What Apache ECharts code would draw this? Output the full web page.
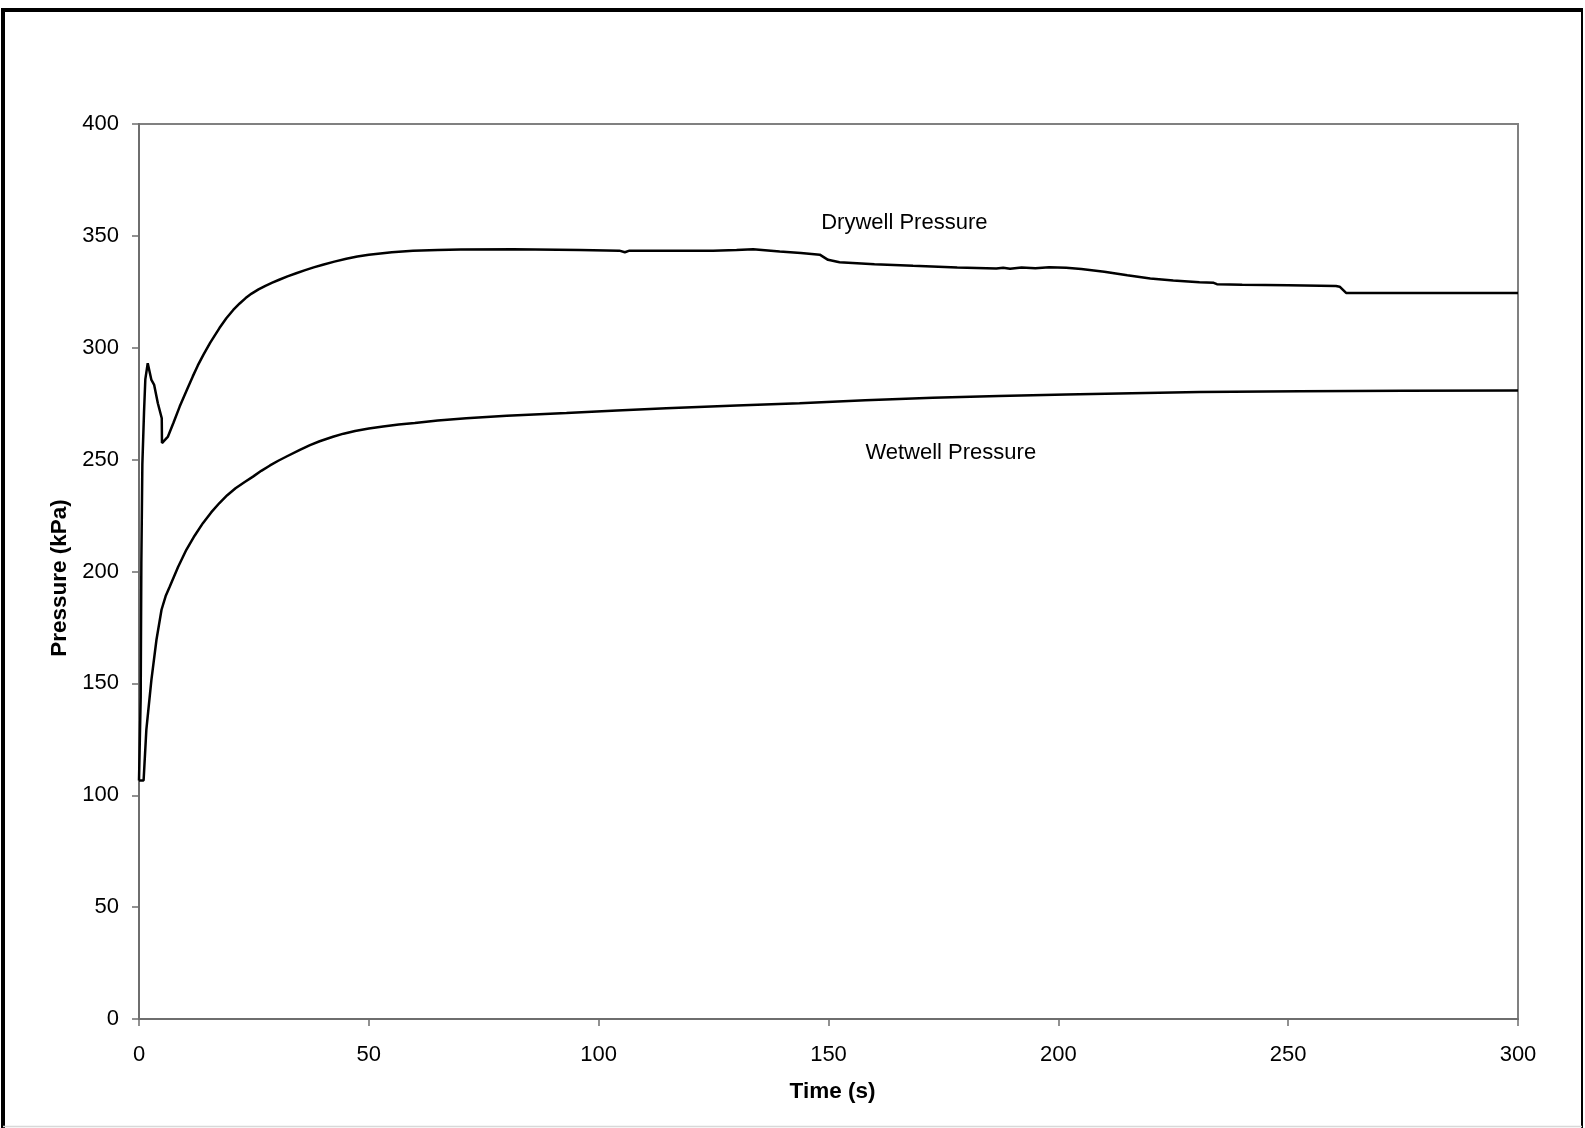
<!DOCTYPE html>
<html>
<head>
<meta charset="utf-8">
<title>Drywell and Wetwell Pressure</title>
<script src="https://cdn.jsdelivr.net/npm/echarts@6/dist/echarts.min.js"></script>
<style>
  html, body { margin: 0; padding: 0; background: #fff; }
  #chart { width: 1585px; height: 1128px; }
</style>
</head>
<body>
<div id="chart"></div>
<script>
// Drywell pressure, [time (s), pressure (kPa)]
const drywell = [
  [0, 106.6], [0.37, 144], [0.51, 204], [0.73, 248], [1.09, 271], [1.38, 286], [1.9, 293.1],
  [2.7, 285.6], [3.3, 283.4], [4.1, 275.2], [4.95, 268.5], [5.0, 257.4], [5.4, 257.4],
  [6.3, 260.3], [7.5, 266.5], [8.85, 273.7], [10.5, 281.6], [11.7, 287.2], [12.8, 292.1],
  [14, 296.8], [15.5, 302.3], [17.5, 308.8], [19, 313.2], [20.5, 316.9], [21.9, 319.8],
  [23.2, 322.2], [24.5, 324.2], [26, 326.1], [27.5, 327.7], [29, 329.1], [30.5, 330.4],
  [32.3, 331.9], [34.2, 333.3], [36, 334.6], [38, 335.9], [40, 337.1], [42.5, 338.5],
  [45.1, 339.8], [47.5, 340.8], [50, 341.6], [55, 342.7], [59.6, 343.3], [65, 343.7],
  [70, 343.9], [81.4, 344], [95.9, 343.7], [104.5, 343.4], [105.7, 342.7],
  [106.7, 343.4], [115, 343.3], [124.9, 343.4], [130, 343.7], [133.6, 344], [139.4, 343],
  [144, 342.3], [148.1, 341.6], [149.9, 339.3], [152.4, 338.2], [160, 337.3], [168.4, 336.6],
  [178, 335.9], [186.5, 335.4], [188, 335.8], [189.5, 335.3], [192, 335.9], [195, 335.5],
  [198, 336], [201.7, 335.8], [205, 335.2], [210, 334], [215, 332.4], [220, 331],
  [225, 330.1], [230.7, 329.3], [233.8, 329], [234.5, 328.4], [240, 328.2], [250, 327.9],
  [260.4, 327.6], [261.2, 327.3], [262.6, 324.5], [270, 324.5], [300, 324.5]
];

// Wetwell pressure, [time (s), pressure (kPa)]
const wetwell = [
  [0, 106.6], [1.0, 106.6], [1.6, 129.3], [2.7, 151.6], [3.8, 169.5], [4.9, 182.9],
  [5.8, 189], [6.7, 193.3], [8.5, 202], [10.3, 209.7], [12.1, 216], [13.9, 221.6],
  [15.7, 226.4], [17.5, 230.6], [19.2, 234.1], [21, 237.2], [23, 240], [24.8, 242.4],
  [26.6, 245], [28.5, 247.4], [30.3, 249.5], [32.1, 251.4], [35, 254.4], [37.2, 256.5],
  [39.3, 258.2], [42.2, 260.2], [44.5, 261.6], [47, 262.8], [50, 263.9], [53.1, 264.8],
  [56.5, 265.7], [60, 266.4], [65, 267.5], [71.2, 268.5], [80, 269.6], [93, 270.8],
  [104, 272], [114.7, 273], [130, 274.2], [143.7, 275.2], [158, 276.5], [172.7, 277.6],
  [187, 278.4], [201.7, 279.1], [216, 279.7], [230.7, 280.2], [252.5, 280.6],
  [275, 280.8], [300, 280.9]
];

// Curve captions, anchored at [time, pressure]
const captionNames = ['Drywell Pressure', 'Wetwell Pressure'];
const captionAnchors = [[166.5, 355.6], [176.6, 253.1]];

// Axis ranges and tick steps
const timeRange = [0, 300], timeStep = 50;
const pressureRange = [0, 400], pressureStep = 50;

const FONT = "'Liberation Sans', Arial, sans-serif";
const AXIS_GRAY = '#6e6e6e';

const chart = echarts.init(document.getElementById('chart'), null, { renderer: 'canvas' });

const axisCommon = {
  type: 'value',
  axisLine: { show: true, lineStyle: { color: AXIS_GRAY, width: 2 } },
  axisTick: { show: true, inside: false, length: 7, lineStyle: { color: AXIS_GRAY, width: 1.5 } },
  splitLine: { show: false },
  nameLocation: 'middle'
};

const titleStyle = { fontFamily: FONT, fontSize: 22.5, fontWeight: 'bold', color: '#000' };

chart.setOption({
  backgroundColor: '#fff',
  animation: false,
  grid: {
    left: 139, right: 67, top: 124, bottom: 109,
    show: true, borderColor: '#808080', borderWidth: 2, backgroundColor: 'transparent'
  },
  xAxis: Object.assign({}, axisCommon, {
    min: timeRange[0], max: timeRange[1], interval: timeStep,
    name: 'Time (s)', nameGap: 61,
    nameTextStyle: Object.assign({}, titleStyle, { padding: [0, 0, 0, 8] }),
    axisLabel: { fontFamily: FONT, fontSize: 22, color: '#000', margin: 25 }
  }),
  yAxis: Object.assign({}, axisCommon, {
    min: pressureRange[0], max: pressureRange[1], interval: pressureStep,
    name: 'Pressure (kPa)', nameGap: 60,
    nameTextStyle: Object.assign({}, titleStyle, { padding: [0, 13, 0, 0] }),
    axisLabel: { fontFamily: FONT, fontSize: 22, color: '#000', margin: 20 }
  }),
  graphic: [
    // outer frame of the figure
    { type: 'line', shape: { x1: 1, y1: 10, x2: 1583, y2: 10 }, style: { stroke: '#000', lineWidth: 4 } },
    { type: 'line', shape: { x1: 3, y1: 8, x2: 3, y2: 1128 }, style: { stroke: '#000', lineWidth: 4 } },
    { type: 'line', shape: { x1: 1582, y1: 8, x2: 1582, y2: 1128 }, style: { stroke: '#000', lineWidth: 2 } },
    { type: 'line', shape: { x1: 3, y1: 1126.5, x2: 1582, y2: 1126.5 }, style: { stroke: '#d8d8d8', lineWidth: 1.5 } }
  ],
  series: [
    {
      name: 'Drywell Pressure', type: 'line', data: drywell,
      showSymbol: false, symbol: 'none', smooth: false,
      lineStyle: { color: '#000', width: 2.5 }, silent: true, z: 3
    },
    {
      name: 'Wetwell Pressure', type: 'line', data: wetwell,
      showSymbol: false, symbol: 'none', smooth: false,
      lineStyle: { color: '#000', width: 2.5 }, silent: true, z: 3
    },
    {
      name: 'captions', type: 'scatter', symbolSize: 0, silent: true, z: 4,
      data: captionNames.map((n, i) => ({ name: n, value: captionAnchors[i] })),
      label: {
        show: true, position: 'inside', formatter: p => p.name,
        fontFamily: FONT, fontSize: 22, color: '#000',
        textBorderWidth: 0, textBorderColor: 'transparent', opacity: 1
      },
      itemStyle: { opacity: 1 }
    }
  ]
});
</script>
</body>
</html>
